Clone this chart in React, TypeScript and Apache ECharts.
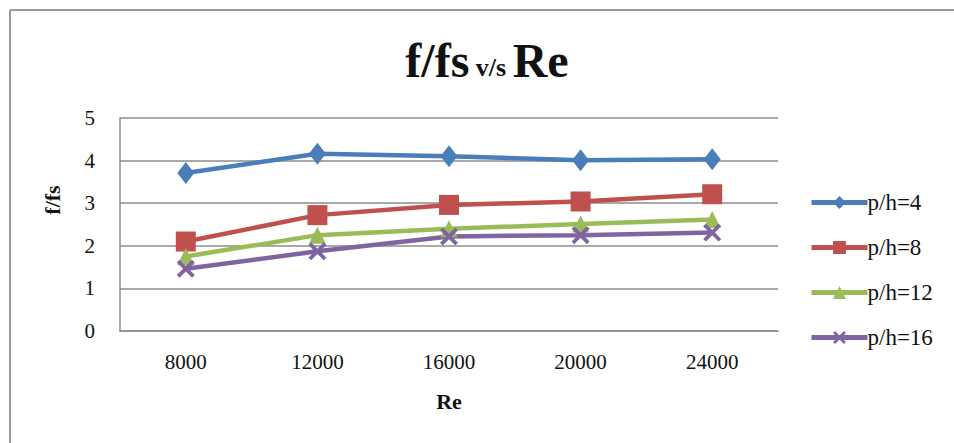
import React, { useEffect, useRef } from "react";
import * as echarts from "echarts";

const categories = ["8000", "12000", "16000", "20000", "24000"];
const ph4 = [3.71, 4.16, 4.1, 4.01, 4.03];
const ph8 = [2.1, 2.72, 2.96, 3.04, 3.21];
const ph12 = [1.75, 2.25, 2.4, 2.51, 2.62];
const ph16 = [1.46, 1.87, 2.22, 2.25, 2.31];
const seriesNames = ["p/h=4", "p/h=8", "p/h=12", "p/h=16"];
const yTicks = [0, 5, 1];

const FONT = "Liberation Serif";
const crossPath =
  "path://M0,1.5L1.5,0L5,3.5L8.5,0L10,1.5L6.5,5L10,8.5L8.5,10L5,6.5L1.5,10L0,8.5L3.5,5Z";

export default function App() {
  const ref = useRef<HTMLDivElement>(null);
  useEffect(() => {
    document.body.style.margin = "0";
    const chart = echarts.init(ref.current!, null, { renderer: "svg" });
    const mk = (name: string, data: number[], color: string, symbol: string, size: any) => ({
      name,
      type: "line",
      data,
      color,
      symbol,
      symbolSize: size,
      lineStyle: { width: 4.5, color },
      itemStyle: { color },
    });
    chart.setOption({
      animation: false,
      backgroundColor: "#ffffff",
      textStyle: { fontFamily: FONT },
      grid: { left: 120, top: 118, width: 658, height: 213 },
      xAxis: {
        type: "category",
        data: categories,
        boundaryGap: true,
        axisLine: { show: true, lineStyle: { color: "#8c8c8c", width: 1.5 } },
        axisTick: { show: false },
        axisLabel: { fontFamily: FONT, fontSize: 21, color: "#111", margin: 20 },
        name: "Re",
        nameLocation: "middle",
        nameGap: 59,
        nameTextStyle: { fontFamily: FONT, fontSize: 22, fontWeight: "bold", color: "#111" },
      },
      yAxis: {
        type: "value",
        min: yTicks[0],
        max: yTicks[1],
        interval: yTicks[2],
        axisLine: { show: true, lineStyle: { color: "#8c8c8c", width: 1.5 } },
        axisTick: { show: false },
        splitLine: { show: true, lineStyle: { color: "#8c8c8c", width: 1.5 } },
        axisLabel: { fontFamily: FONT, fontSize: 21, color: "#111", margin: 25 },
      },
      legend: {
        orient: "vertical",
        left: 804,
        top: 186,
        itemWidth: 56,
        itemHeight: 16,
        itemGap: 22,
        data: seriesNames,
        lineStyle: { width: 5 },
        textStyle: { fontFamily: FONT, fontSize: 23, color: "#111", padding: [0, 0, 0, -5] },
      },
      series: [
        mk(seriesNames[0], ph4, "#4a7ebb", "diamond", [17, 22]),
        mk(seriesNames[1], ph8, "#c0504d", "rect", 20),
        mk(seriesNames[2], ph12, "#9bbb59", "triangle", 17),
        mk(seriesNames[3], ph16, "#8064a2", crossPath, 18),
      ],
      graphic: [
        { type: "line", shape: { x1: 10, y1: 10, x2: 10, y2: 443 }, style: { stroke: "#999", lineWidth: 2 } },
        { type: "line", shape: { x1: 10, y1: 10, x2: 954, y2: 10 }, style: { stroke: "#999", lineWidth: 2 } },
        {
          type: "text",
          x: 487,
          y: 60,
          style: {
            text: "{a|f/fs}{b| v/s }{a|Re}",
            align: "center",
            verticalAlign: "middle",
            rich: {
              a: { fontFamily: FONT, fontSize: 48, fontWeight: "bold", fill: "#111" },
              b: { fontFamily: FONT, fontSize: 26, fontWeight: "bold", fill: "#111", padding: [14, 0, 0, 0] },
            },
          },
        },
        {
          type: "text",
          x: 52,
          y: 200,
          rotation: Math.PI / 2,
          style: {
            text: "f/fs",
            align: "center",
            verticalAlign: "middle",
            fontFamily: FONT,
            fontSize: 22,
            fontWeight: "bold",
            fill: "#111",
          },
        },
      ],
    });
    return () => chart.dispose();
  }, []);
  return <div ref={ref} style={{ width: 954, height: 443 }} />;
}
